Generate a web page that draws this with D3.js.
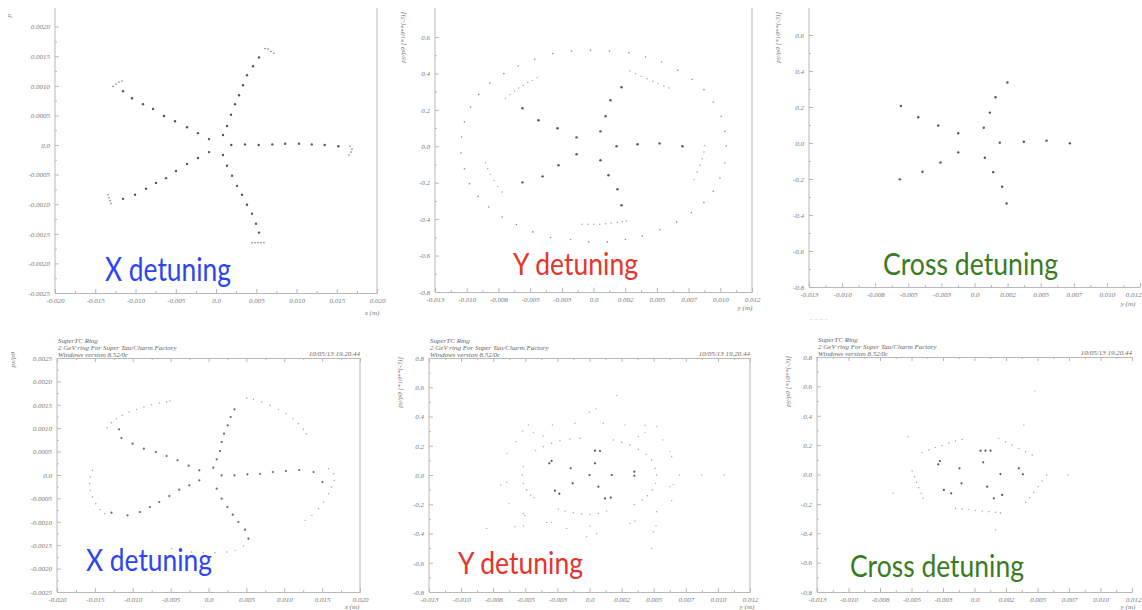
<!DOCTYPE html>
<html>
<head>
<meta charset="utf-8">
<script src="https://cdn.jsdelivr.net/npm/d3@7/dist/d3.min.js"></script>
<style>
  body { margin: 0; background: #fff; }
  svg { display: block; }
</style>
</head>
<body>
<script>
// ---- tick labels (as printed on the plots) ----
var xLabels20 = ['-0.020', '-0.015', '-0.010', '-0.005', '0.0', '0.005', '0.010', '0.015', '0.020']
var xLabels13 = ['-0.013', '-0.010', '-0.008', '-0.005', '-0.003', '0.0', '0.002', '0.005', '0.007', '0.010', '0.012']
var yLabelsTopX = ['0.0020', '0.0015', '0.0010', '0.0005', '0.0', '-0.0005', '-0.0010', '-0.0015', '-0.0020', '-0.0025']
var yLabelsBotX = ['0.0025', '0.0020', '0.0015', '0.0010', '0.0005', '0.0', '-0.0005', '-0.0010', '-0.0015', '-0.0020', '-0.0025']
var yLabelsTop = ['0.6', '0.4', '0.2', '0.0', '-0.2', '-0.4', '-0.6', '-0.8']
var yLabelsBot = ['0.8', '0.6', '0.4', '0.2', '0.0', '-0.2', '-0.4', '-0.6', '-0.8']

// ---- phase space points, x in mm, p in 1e-3 (x plots) / as printed (y plots) ----
// top left: X detuning
var xDetTopArms = [
  [1.9,0],[3.6,0.01],[5.3,0],[7.0,0.01],[8.6,0.02],[10.3,0.02],[11.9,0.01],[13.5,0],[15.2,-0.02],
  [0.87,0.17],[1.37,0.32],[1.86,0.51],[2.36,0.69],[2.86,0.84],[3.35,1.01],[3.85,1.18],[4.6,1.33],[5.34,1.48],
  [-0.87,0.10],[-2.24,0.20],[-3.6,0.30],[-5.09,0.40],[-6.46,0.49],[-7.82,0.61],[-9.07,0.69],[-10.43,0.79],[-11.55,0.91],
  [-0.87,-0.12],[-2.24,-0.22],[-3.6,-0.32],[-4.97,-0.44],[-6.21,-0.56],[-7.45,-0.64],[-8.69,-0.74],[-10.06,-0.84],[-11.55,-0.91],
  [0.87,-0.17],[1.37,-0.35],[1.99,-0.52],[2.61,-0.69],[3.23,-0.84],[3.85,-1.01],[4.47,-1.16],[4.97,-1.33],[5.34,-1.48]
]
var xDetTopArcs = [
  [16.64,-0.02],[16.89,-0.07],[16.77,-0.12],[16.52,-0.17],
  [6.09,1.63],[6.46,1.62],[6.83,1.58],[7.2,1.55],
  [-12.79,0.99],[-12.42,1.03],[-12.05,1.06],[-11.67,1.08],
  [-13.41,-0.84],[-13.29,-0.89],[-13.17,-0.94],[-13.04,-0.99],
  [4.47,-1.65],[4.84,-1.65],[5.22,-1.65],[5.59,-1.65],[5.96,-1.65]
]

// top middle: Y detuning
var yDetTopStar = [
  [1.81,0],[3.47,0.011],[5.21,0.016],[7.02,0],
  [0.55,0.082],[0.95,0.165],[1.34,0.253],[2.21,0.324],
  [-1.34,0.049],[-2.84,0.099],[-4.34,0.143],[-5.6,0.209],
  [-1.34,-0.044],[-2.76,-0.104],[-4.02,-0.165],[-5.6,-0.198],
  [0.55,-0.077],[1.18,-0.159],[1.89,-0.236],[2.21,-0.324]
]
var yDetTopRing = [
  [-3.21,0.509],[-1.74,0.523],[-0.24,0.527],[1.26,0.523],[2.79,0.514],[4.10,0.490],[5.37,0.463],[6.65,0.417],
  [7.78,0.368],[8.71,0.311],[9.44,0.243],[10.07,0.165],[10.36,0.082],[10.47,0.002],[10.36,-0.092],[9.97,-0.174],
  [9.44,-0.247],[8.71,-0.309],[7.71,-0.364],[6.55,-0.415],[5.23,-0.458],[3.84,-0.492],[2.52,-0.512],[1.08,-0.525],
  [-0.37,-0.525],[-1.81,-0.512],[-3.39,-0.501],[-4.79,-0.470],[-6.08,-0.430],[-7.21,-0.388],[-8.26,-0.333],
  [-9.10,-0.275],[-9.78,-0.205],[-10.18,-0.123],[-10.44,-0.037],[-10.41,0.051],[-10.18,0.134],[-9.70,0.216],
  [-9.05,0.285],[-8.18,0.348],[-7.07,0.399],[-5.94,0.441],[-4.63,0.478]
]
var yDetTopArcs = [
  [-6.94,0.262],[-6.60,0.284],[-6.23,0.304],[-5.89,0.320],[-5.55,0.335],[-5.18,0.350],[-4.84,0.362],[-4.44,0.377],
  [2.87,0.414],[3.31,0.399],[3.76,0.384],[4.23,0.371],[4.68,0.357],[5.10,0.344],[5.55,0.331],[5.94,0.320],
  [8.78,0.005],[8.71,-0.031],[8.57,-0.068],[8.39,-0.104],[8.18,-0.141],[7.92,-0.183],
  [-0.89,-0.428],[-0.45,-0.428],[0.03,-0.428],[0.50,-0.428],[0.95,-0.425],[1.39,-0.421],[1.87,-0.417],[2.26,-0.414],[2.60,-0.410],
  [-8.52,-0.090],[-8.34,-0.123],[-8.13,-0.154],[-7.86,-0.187],[-7.55,-0.220],[-7.21,-0.251]
]

// top right: Cross detuning
var crossTopStar = [
  [1.91,0.002],[3.73,0.007],[5.44,0.013],[7.20,-0.002],
  [0.70,0.085],[1.16,0.169],[1.59,0.254],[2.49,0.336],
  [-1.23,0.054],[-2.74,0.097],[-4.25,0.143],[-5.56,0.206],
  [-1.23,-0.052],[-2.57,-0.108],[-3.93,-0.160],[-5.64,-0.202],
  [0.78,-0.082],[1.41,-0.162],[2.09,-0.243],[2.42,-0.336]
]

// bottom left: X detuning
var xDetBotArms = [
  [1.74,-0.007],[3.42,-0.007],[5.14,0.014],[6.81,0.021],[8.49,0.064],[10.21,0.085],[11.97,0.107],[13.87,0.064],[15.06,-0.150],
  [0.64,0.157],[1.08,0.335],[1.52,0.513],[1.74,0.705],[2.05,0.883],[2.54,1.061],[2.93,1.239],[3.42,1.403],
  [-1.21,0.100],[-2.62,0.199],[-4.08,0.313],[-5.53,0.406],[-6.95,0.491],[-8.53,0.563],[-10.03,0.670],[-11.49,0.791],[-11.80,0.976],
  [-1.21,-0.114],[-2.54,-0.221],[-3.86,-0.313],[-5.18,-0.449],[-6.50,-0.577],[-7.74,-0.684],[-9.06,-0.791],[-10.69,-0.862],[-12.81,-0.805],
  [1.08,-0.292],[1.74,-0.506],[2.49,-0.684],[3.20,-0.848],[3.95,-1.004],[4.83,-1.168],[5.27,-1.360]
]
var xDetBotLoops = [
  [-13.38,1.011],[-12.81,1.118],[-12.15,1.204],[-11.36,1.275],[-10.47,1.346],[-9.50,1.403],[-8.53,1.453],[-7.52,1.503],[-6.50,1.539],[-5.53,1.560],[-5.09,1.581],
  [5.05,1.645],[5.93,1.617],[7.03,1.560],[8.14,1.489],[9.24,1.403],[10.25,1.311],[11.14,1.204],[11.88,1.097],[12.55,0.976],[12.90,0.883],
  [15.85,0.135],[16.52,0.028],[16.60,-0.114],[16.29,-0.256],[15.85,-0.399],[15.19,-0.577],[14.53,-0.719],[13.65,-0.862],[12.77,-0.969],
  [-15.32,0.100],[-15.59,-0.043],[-15.68,-0.185],[-15.59,-0.328],[-15.32,-0.470],[-14.88,-0.613],[-14.35,-0.734],[-13.69,-0.826],
  [-4.87,-1.574],[-3.55,-1.610],[-2.23,-1.645],[-0.68,-1.660],[0.86,-1.660],[2.40,-1.645],[3.51,-1.610],[4.61,-1.517]
]

// bottom middle: Y detuning
var yDetBotCore = [
  [0,0],[-1.47,0.046],[-1.31,-0.057],[0.43,0.080],[0.69,-0.080],[1.73,0],[3.49,0.023],[3.49,-0.005],
  [-2.95,0.096],[-3.13,0.080],[-2.69,-0.107],[-2.35,-0.128],[0.43,0.167],[0.82,0.164],[1.21,-0.160],[1.65,-0.155]
]
var yDetBotRing = [
  [-4.19,0.167],[-3.60,0.194],[-2.95,0.217],[-2.30,0.235],[-1.52,0.247],[-0.74,0.251],[1.86,0.240],[2.51,0.224],
  [3.15,0.205],[3.80,0.176],[4.40,0.142],[4.84,0.103],[5.10,0.046],[5.23,0],[5.15,-0.057],[4.89,-0.103],
  [4.50,-0.142],[4.11,-0.171],[3.49,-0.201],[-2.43,-0.233],[-1.91,-0.247],[-1.26,-0.258],[-0.61,-0.267],
  [0.04,-0.269],[0.69,-0.263],[1.34,-0.247],[-5.15,0.057],[-5.23,0],[-5.15,-0.057],[-4.89,-0.103],[-4.58,-0.137],[-4.32,-0.155]
]
var yDetBotHalo = [
  [2.12,0.543],[0.51,0.452],[-0.01,0.429],[-4.76,0.342],[-2.89,0.342],[-1.13,0.354],[1.08,0.354],[2.76,0.342],
  [4.32,0.338],[5.23,0.331],[-5.20,0.301],[-4.37,0.290],[-3.60,0.267],[3.80,0.263],[4.32,0.290],[5.70,0.240],
  [-5.72,0.228],[-6.40,0.148],[6.27,0.160],[6.40,0.126],[-6.92,-0.068],[-6.45,-0.050],[6.27,-0.080],[6.53,-0.064],
  [7.00,0],[8.74,0],[10.50,0],[-6.27,-0.194],[6.40,-0.176],[-5.15,-0.263],[-5.02,-0.279],[5.23,-0.251],
  [3.15,-0.331],[3.54,-0.315],[-3.34,-0.324],[-2.95,-0.324],[-5.80,-0.354],[-5.15,-0.349],[-8.01,-0.365],
  [-1.78,-0.365],[0.04,-0.349],[0.56,-0.400],[-0.22,-0.422],[5.18,-0.349],[4.97,-0.388],[4.84,-0.502]
]

// bottom right: Cross detuning
var crossBotCore = [
  [-1.19,0.042],[-1.03,-0.060],[0.69,0.083],[1.01,-0.083],[2.06,0.003],[-2.88,0.069],[-2.75,0.092],
  [0.48,0.162],[0.87,0.162],[1.27,0.162],[3.52,0.042],[3.84,0.001],[-2.43,-0.105],[-1.85,-0.128],[1.53,-0.162],[2.20,-0.139]
]
var crossBotPentagon = [
  [-4.15,0.149],[-3.62,0.167],[-3.10,0.183],[-2.57,0.198],[-2.04,0.214],[-1.51,0.228],[-0.98,0.239],
  [1.93,0.246],[2.46,0.223],[2.99,0.201],[3.52,0.178],[4.05,0.155],[4.58,0.133],
  [5.72,-0.003],[5.37,-0.044],[5.05,-0.083],[4.71,-0.121],[4.39,-0.158],[4.05,-0.189],
  [-1.51,-0.230],[-0.98,-0.235],[-0.45,-0.239],[0.08,-0.244],[0.61,-0.248],[1.14,-0.253],[1.67,-0.257],[2.06,-0.262],
  [-4.95,0.024],[-4.76,-0.015],[-4.60,-0.053],[-4.42,-0.090],[-4.23,-0.128],[-4.07,-0.162]
]
var crossBotHalo = [
  [4.79,0.568],[3.92,0.337],[-5.29,0.257],[7.44,-0.003],[-6.46,-0.128],[1.67,-0.378]
]

var headerLines = ['SuperTC Ring', '2 GeV ring For Super Tau/Charm Factory', 'Windows version 8.52/0c']
var stamp = '10/05/13  19.20.44'

var panels = [
  { xr: [55, 377], yr: [293, -3], xd: [-20, 20], yd: [-2.5, 2.5], top: 8, right: true,
    xTicks: [-20, -15, -10, -5, 0, 5, 10, 15, 20], xLabels: xLabels20,
    yTicks: [2, 1.5, 1, 0.5, 0, -0.5, -1, -1.5, -2, -2.5], yLabels: yLabelsTopX,
    sets: [[xDetTopArms, 1.2, '#555'], [xDetTopArcs, 0.8, '#777']],
    title: 'X detuning', color: '#2b45f2', tx: 105, ty: 281, tw: 126, fs: 32,
    xName: 'x (m)', xnx: 372, xny: 315, yName: 'p', ynx: 11, yny: 14 },
  { xr: [435, 752], yr: [292, 0.6], xd: [-12.5, 12.5], yd: [-0.8, 0.8], top: 8, right: true,
    xTicks: [-12.5, -10, -7.5, -5, -2.5, 0, 2.5, 5, 7.5, 10, 12.5], xLabels: xLabels13,
    yTicks: [0.6, 0.4, 0.2, 0, -0.2, -0.4, -0.6, -0.8], yLabels: yLabelsTop,
    sets: [[yDetTopStar, 1.2, '#555'], [yDetTopRing, 0.8, '#888'], [yDetTopArcs, 0.7, '#999']],
    title: 'Y detuning', color: '#e6342c', tx: 513, ty: 275, tw: 125, fs: 31,
    xName: 'y (m)', xnx: 745, xny: 310, yName: 'py/p0    [*10**(-3)]', ynx: 405, yny: 12 },
  { xr: [809, 1140], yr: [287, -1], xd: [-12.5, 12.5], yd: [-0.8, 0.8], top: 8, right: false,
    xTicks: [-12.5, -10, -7.5, -5, -2.5, 0, 2.5, 5, 7.5, 10, 12.5], xLabels: xLabels13,
    yTicks: [0.6, 0.4, 0.2, 0, -0.2, -0.4, -0.6, -0.8], yLabels: yLabelsTop,
    sets: [[crossTopStar, 1.2, '#555']],
    title: 'Cross detuning', color: '#3a7b21', tx: 883, ty: 275, tw: 175, fs: 31,
    xName: 'y (m)', xnx: 1128, xny: 306, yName: 'py/p0    [*10**(-3)]', ynx: 780, yny: 12 },
  { xr: [57, 360], yr: [592, 358], xd: [-20, 20], yd: [-2.5, 2.5], top: 358, right: true, frameTop: true,
    xTicks: [-20, -15, -10, -5, 0, 5, 10, 15, 20], xLabels: xLabels20,
    yTicks: [2.5, 2, 1.5, 1, 0.5, 0, -0.5, -1, -1.5, -2, -2.5], yLabels: yLabelsBotX,
    sets: [[xDetBotArms, 1.1, '#666'], [xDetBotLoops, 0.7, '#999']],
    title: 'X detuning', color: '#2b45f2', tx: 86, ty: 571, tw: 126, fs: 30,
    xName: 'x (m)', xnx: 352, xny: 609, yName: 'px/p0', ynx: 15, yny: 352, header: true },
  { xr: [429, 750], yr: [592, 358], xd: [-12.5, 12.5], yd: [-0.8, 0.8], top: 358, right: true, frameTop: true,
    xTicks: [-12.5, -10, -7.5, -5, -2.5, 0, 2.5, 5, 7.5, 10, 12.5], xLabels: xLabels13,
    yTicks: [0.8, 0.6, 0.4, 0.2, 0, -0.2, -0.4, -0.6, -0.8], yLabels: yLabelsBot,
    sets: [[yDetBotCore, 1.1, '#555'], [yDetBotRing, 0.7, '#999'], [yDetBotHalo, 0.7, '#aaa']],
    title: 'Y detuning', color: '#e6342c', tx: 458, ty: 574, tw: 125, fs: 30,
    xName: 'y (m)', xnx: 747, xny: 609, yName: 'py/p0    [*10**(-3)]', ynx: 402, yny: 357, header: true },
  { xr: [817, 1132], yr: [592, 357], xd: [-12.5, 12.5], yd: [-0.8, 0.8], top: 357, right: false, frameTop: true,
    xTicks: [-12.5, -10, -7.5, -5, -2.5, 0, 2.5, 5, 7.5, 10, 12.5], xLabels: xLabels13,
    yTicks: [0.8, 0.6, 0.4, 0.2, 0, -0.2, -0.4, -0.6, -0.8], yLabels: yLabelsBot,
    sets: [[crossBotCore, 1.1, '#555'], [crossBotPentagon, 0.7, '#999'], [crossBotHalo, 0.7, '#aaa']],
    title: 'Cross detuning', color: '#3a7b21', tx: 850, ty: 577, tw: 174, fs: 30,
    xName: 'y (m)', xnx: 1128, xny: 609, yName: 'py/p0    [*10**(-3)]', ynx: 790, yny: 356, header: true }
]

var svg = d3.select('body').append('svg')
    .attr('width', 1142)
    .attr('height', 610)
    .attr('font-family', 'Liberation Serif')

var tickFont = 'italic 7px "Liberation Serif"'
var lineCol = '#b8b8b8'

function halves(ticks) {
  return d3.pairs(ticks).map(function (p) { return (p[0] + p[1]) / 2 })
}

function styleAxis(sel) {
  sel.selectAll('path.domain').attr('stroke', lineCol)
  sel.selectAll('.tick line').attr('stroke', lineCol)
  sel.selectAll('.tick text').style('font', tickFont).attr('fill', '#777')
}

function drawPanel(p) {
  var x = d3.scaleLinear().domain(p.xd).range(p.xr)
  var y = d3.scaleLinear().domain(p.yd).range(p.yr)
  var g = svg.append('g')
  var bottom = y(p.yd[0])

  // x axis, labels below, ticks inward
  var xAxis = g.append('g')
    .attr('transform', 'translate(0,' + bottom + ')')
    .call(d3.axisBottom(x).tickValues(p.xTicks).tickFormat(function (d, i) { return p.xLabels[i] })
      .tickSizeInner(-4).tickSizeOuter(0).tickPadding(5))
    .call(styleAxis)
  // keep the last label inside the window
  xAxis.selectAll('.tick text')
    .filter(function (d) { return x(d) > 1130 })
    .attr('text-anchor', 'end')
    .attr('x', 1141 - x(p.xd[1]))
  g.append('g')
    .attr('transform', 'translate(0,' + bottom + ')')
    .call(d3.axisBottom(x).tickValues(halves(p.xTicks)).tickFormat('').tickSizeInner(-2).tickSizeOuter(0))
    .call(styleAxis)

  // y axis
  var yAxis = g.append('g')
    .attr('transform', 'translate(' + p.xr[0] + ',0)')
    .call(d3.axisLeft(y).tickValues(p.yTicks).tickFormat(function (d, i) { return p.yLabels[i] })
      .tickSizeInner(-4).tickSizeOuter(0).tickPadding(5))
    .call(styleAxis)
  yAxis.select('path.domain').remove()
  g.append('g')
    .attr('transform', 'translate(' + p.xr[0] + ',0)')
    .call(d3.axisLeft(y).tickValues(halves(p.yTicks)).tickFormat('').tickSizeInner(-2).tickSizeOuter(0))
    .call(styleAxis)
    .select('path.domain').remove()

  g.append('line')
    .attr('x1', p.xr[0]).attr('x2', p.xr[0])
    .attr('y1', p.top).attr('y2', bottom)
    .attr('stroke', lineCol)
  if (p.right) {
    g.append('line')
      .attr('x1', p.xr[1]).attr('x2', p.xr[1])
      .attr('y1', p.top).attr('y2', bottom)
      .attr('stroke', lineCol)
  }
  if (p.frameTop) {
    g.append('g')
      .attr('transform', 'translate(0,' + p.top + ')')
      .call(d3.axisTop(x).tickValues(p.xTicks).tickFormat('').tickSizeInner(-4).tickSizeOuter(0))
      .call(styleAxis)
    g.append('g')
      .attr('transform', 'translate(0,' + p.top + ')')
      .call(d3.axisTop(x).tickValues(halves(p.xTicks)).tickFormat('').tickSizeInner(-2).tickSizeOuter(0))
      .call(styleAxis)
  }

  // header of the tracking plot
  if (p.header) {
    g.selectAll('text.hdr')
      .data(headerLines)
      .enter().append('text')
      .attr('class', 'hdr')
      .attr('x', p.xr[0] + 1)
      .attr('y', function (d, i) { return p.top - 15 + i * 7 })
      .style('font', tickFont)
      .attr('fill', '#666')
      .text(function (d) { return d })
    g.append('text')
      .attr('x', Math.min(p.xr[1], 1140))
      .attr('y', p.top - 2)
      .attr('text-anchor', 'end')
      .style('font', tickFont)
      .attr('fill', '#666')
      .text(stamp)
  }

  // axis names
  g.append('text')
    .attr('x', p.xnx).attr('y', p.xny)
    .attr('text-anchor', 'middle')
    .style('font', tickFont).attr('fill', '#777')
    .text(p.xName)
  g.append('text')
    .attr('transform', 'translate(' + p.ynx + ',' + p.yny + ') rotate(-90)')
    .attr('text-anchor', 'end')
    .style('font', tickFont).attr('fill', '#777')
    .text(p.yName)

  // particles
  p.sets.forEach(function (s) {
    g.append('g').selectAll('circle')
      .data(s[0])
      .enter().append('circle')
      .attr('cx', function (d) { return x(d[0]) })
      .attr('cy', function (d) { return y(d[1]) })
      .attr('r', s[1])
      .attr('fill', s[2])
  })

  // big coloured caption
  g.append('text')
    .attr('x', p.tx).attr('y', p.ty)
    .attr('textLength', p.tw)
    .attr('lengthAdjust', 'spacingAndGlyphs')
    .style('font-family', 'Lato, "Open Sans", sans-serif')
    .style('font-size', p.fs + 'px')
    .attr('fill', p.color)
    .text(p.title)
}

panels.forEach(drawPanel)

// leftover bit of text under the top right plot
svg.append('text')
  .attr('x', 810).attr('y', 320)
  .style('font', 'italic 6px "Liberation Serif"')
  .attr('fill', '#bbb')
  .text('.. ..          ... ..')
</script>
</body>
</html>
